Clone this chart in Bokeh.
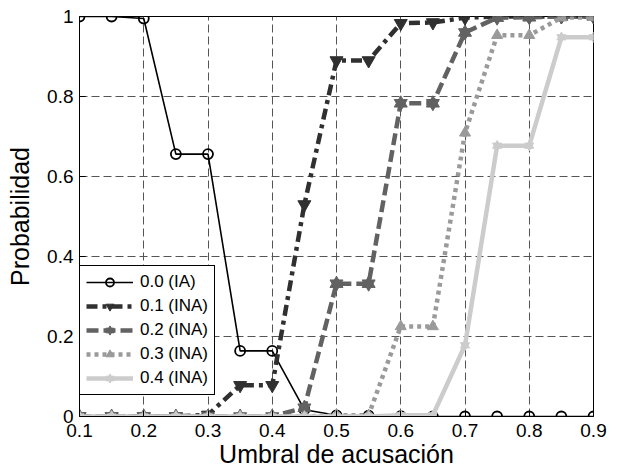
from bokeh.plotting import figure
from bokeh.models import FixedTicker, Legend, LegendItem, Range1d
from bokeh.embed import file_html
from bokeh.resources import INLINE

# ---- data ----
umbral = [0.1, 0.15, 0.2, 0.25, 0.3, 0.35, 0.4, 0.45, 0.5, 0.55, 0.6, 0.65, 0.7, 0.75, 0.8, 0.85, 0.9]
s_00_IA = [1.0, 1.0, 0.995, 0.656, 0.656, 0.164, 0.164, 0.017, 0.003, 0.002, 0.001, 0.0, 0.0, 0.0, 0.0, 0.0, 0.0]
s_01_INA = [0.0, 0.0, 0.0, 0.0, 0.004, 0.078, 0.078, 0.53, 0.89, 0.89, 0.983, 0.985, 0.997, 1.0, 1.0, 1.0, 1.0]
s_02_INA = [0.0, 0.0, 0.0, 0.0, 0.0, 0.0, 0.0, 0.022, 0.332, 0.332, 0.783, 0.783, 0.96, 0.997, 0.998, 1.0, 1.0]
s_03_INA = [0.0, 0.0, 0.0, 0.0, 0.0, 0.0, 0.0, 0.0, 0.003, 0.003, 0.225, 0.225, 0.709, 0.953, 0.953, 0.997, 0.998]
s_04_INA = [0.0, 0.0, 0.0, 0.0, 0.0, 0.0, 0.0, 0.0, 0.0, 0.0, 0.003, 0.003, 0.178, 0.677, 0.677, 0.948, 0.948]
labels = ["0.0 (IA)", "0.1 (INA)", "0.2 (INA)", "0.3 (INA)", "0.4 (INA)"]

x_ticks = [0.1, 0.2, 0.3, 0.4, 0.5, 0.6, 0.7, 0.8, 0.9]
x_tick_labels = ["0.1", "0.2", "0.3", "0.4", "0.5", "0.6", "0.7", "0.8", "0.9"]
y_ticks = [0, 0.2, 0.4, 0.6, 0.8, 1]
y_tick_labels = ["0", "0.2", "0.4", "0.6", "0.8", "1"]
x_title = "Umbral de acusación"
y_title = "Probabilidad"

FONT = "Liberation Sans"

p = figure(width=608, height=470, output_backend="svg", toolbar_location=None,
           x_range=Range1d(0.1, 0.9), y_range=Range1d(0, 1),
           min_border_left=79, min_border_right=15, min_border_top=16, min_border_bottom=53)
p.background_fill_color = "white"
p.border_fill_color = "white"
p.outline_line_color = "black"
p.outline_line_width = 1
p.outline_line_alpha = 1

for ax in (p.xaxis[0], p.yaxis[0]):
    ax.major_tick_in = 6
    ax.major_tick_out = 0
    ax.minor_tick_line_color = None
    ax.axis_line_color = "black"
    ax.major_tick_line_color = "black"
    ax.major_label_text_font = FONT
    ax.major_label_text_font_size = "19px"
    ax.major_label_text_color = "black"
    ax.axis_label_text_font = FONT
    ax.axis_label_text_font_size = "25px"
    ax.axis_label_text_font_style = "normal"
    ax.axis_label_text_color = "black"

p.xaxis.ticker = FixedTicker(ticks=x_ticks)
p.xaxis.major_label_overrides = {t: l for t, l in zip(x_ticks, x_tick_labels)}
p.yaxis.ticker = FixedTicker(ticks=y_ticks)
p.yaxis.major_label_overrides = {t: l for t, l in zip(y_ticks, y_tick_labels)}
p.xaxis.axis_label = x_title
p.yaxis.axis_label = y_title
p.xaxis.major_label_standoff = 7
p.xaxis.axis_label_standoff = 0
p.yaxis.major_label_standoff = 6
p.yaxis.axis_label_standoff = 10

for g in (p.xgrid[0], p.ygrid[0]):
    g.grid_line_color = "#555555"
    g.grid_line_dash = "8 4"
    g.grid_line_width = 1
    g.grid_line_alpha = 1
p.xgrid.ticker = FixedTicker(ticks=x_ticks)
p.ygrid.ticker = FixedTicker(ticks=y_ticks)

items = []

# series 0.0 (IA)
l0 = p.line(umbral, s_00_IA, line_color="black", line_width=1.6)
m0 = p.scatter(umbral, s_00_IA, marker="circle", size=10, line_color="black", line_width=1.8, fill_color=None)
items.append(LegendItem(label=labels[0], renderers=[l0, m0]))

# series 0.1 (INA)
c1 = "#303030"
l1 = p.line(umbral, s_01_INA, line_color=c1, line_width=4.5, line_dash="11 5 4 5")
m1 = p.scatter(umbral, s_01_INA, marker="inverted_triangle", size=13, line_color=c1, fill_color=c1)
items.append(LegendItem(label=labels[1], renderers=[l1, m1]))

# series 0.2 (INA)
c2 = "#626262"
l2 = p.line(umbral, s_02_INA, line_color=c2, line_width=4.5, line_dash="12 5")
m2a = p.scatter(umbral, s_02_INA, marker="triangle", size=13, line_color=c2, fill_color=c2)
m2b = p.scatter(umbral, s_02_INA, marker="inverted_triangle", size=13, line_color=c2, fill_color=c2)
items.append(LegendItem(label=labels[2], renderers=[l2, m2a, m2b]))

# series 0.3 (INA)
c3 = "#9a9a9a"
l3 = p.line(umbral, s_03_INA, line_color=c3, line_width=4.5, line_dash="4 4")
m3 = p.scatter(umbral, s_03_INA, marker="triangle", size=11, line_color=c3, fill_color=c3)
items.append(LegendItem(label=labels[3], renderers=[l3, m3]))

# series 0.4 (INA)
c4 = "#cccccc"
l4 = p.line(umbral, s_04_INA, line_color=c4, line_width=4.5)
m4a = p.scatter(umbral, s_04_INA, marker="triangle", size=9, line_color=c4, fill_color=c4)
m4b = p.scatter(umbral, s_04_INA, marker="inverted_triangle", size=9, line_color=c4, fill_color=c4)
items.append(LegendItem(label=labels[4], renderers=[l4, m4a, m4b]))

legend = Legend(items=items, location=(0, 21), margin=0, padding=6, spacing=4,
                label_height=20, glyph_height=20, glyph_width=47, label_standoff=7,
                label_text_font=FONT, label_text_font_size="17px", label_text_color="black",
                border_line_color="black", border_line_width=1, border_line_alpha=1,
                background_fill_color="white", background_fill_alpha=1)
p.add_layout(legend, "center")

open("out.html", "w").write(file_html(p, INLINE))
